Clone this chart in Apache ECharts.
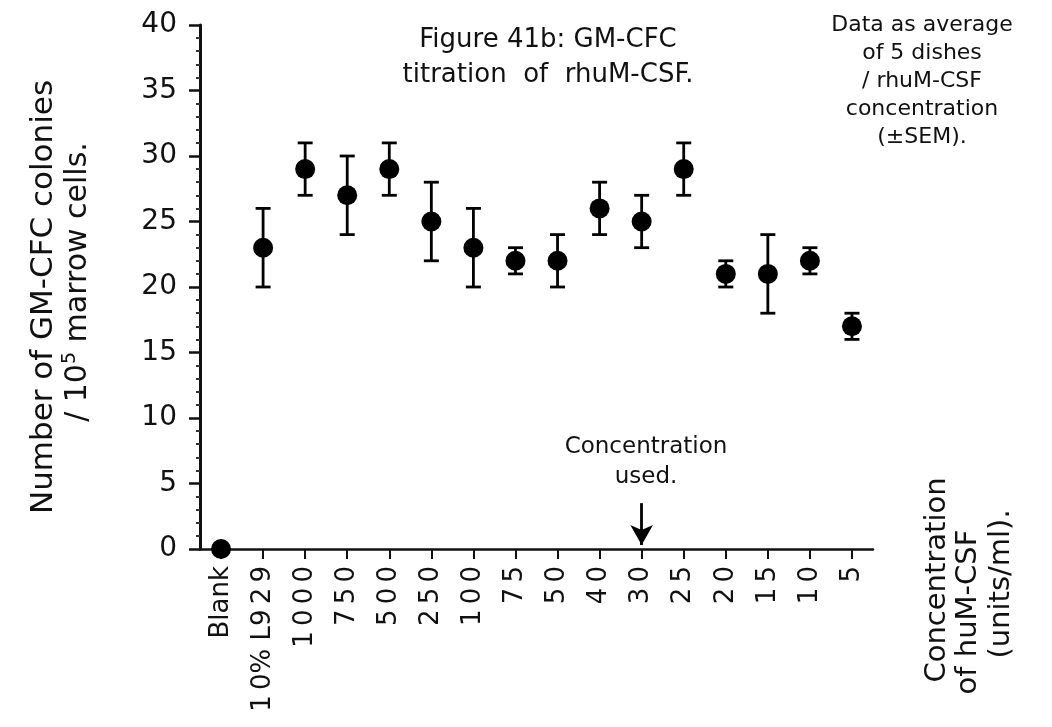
<!DOCTYPE html>
<html>
<head>
<meta charset="utf-8">
<script src="https://cdn.jsdelivr.net/npm/echarts@6/dist/echarts.min.js"></script>
<style>
  html, body { margin: 0; padding: 0; background: #ffffff; }
  #chart { width: 1052px; height: 727px; }
</style>
</head>
<body>
<div id="chart"></div>
<script>
// GM-CFC colonies per 10^5 marrow cells for each rhuM-CSF concentration
const categories = ['Blank', '10% L929', '1000', '750', '500', '250', '100', '75', '50', '40', '30', '25', '20', '15', '10', '5'];
const means = [0, 23, 29, 27, 29, 25, 23, 22, 22, 26, 25, 29, 21, 21, 22, 17];
// mean ± SEM limits (Blank has no error bar)
const lows  = [null, 20, 27, 24, 27, 22, 20, 21, 20, 24, 23, 27, 20, 18, 21, 16];
const highs = [null, 26, 31, 30, 31, 28, 26, 23, 24, 28, 27, 31, 22, 24, 23, 18];
// concentration actually used downstream, marked by the arrow
const usedCategory = '30';
const arrowFrom = 3.5;
const arrowTo = 0.3;

const FONT = 'DejaVu Sans';
const INK = '#111111';
const THIN = '\u2009';

const chart = echarts.init(document.getElementById('chart'));

const pointData = categories.map((c, i) => [i, means[i]]);
const barData = categories
  .map((c, i) => [i, lows[i], highs[i]])
  .filter(d => d[1] !== null);

// typewriter-style spacing between neighbouring digits of a tick label
function spaceDigits(label) {
  return label.replace(/(\d)(?=\d)/g, '$1' + THIN);
}

function renderErrorBar(params, api) {
  const x = api.coord([api.value(0), api.value(1)])[0];
  const yLow = api.coord([api.value(0), api.value(1)])[1];
  const yHigh = api.coord([api.value(0), api.value(2)])[1];
  const half = 7.5;
  const style = { stroke: '#000000', lineWidth: 2.8 };
  return {
    type: 'group',
    children: [
      { type: 'line', shape: { x1: x, y1: yLow, x2: x, y2: yHigh }, style },
      { type: 'line', shape: { x1: x - half, y1: yLow, x2: x + half, y2: yLow }, style },
      { type: 'line', shape: { x1: x - half, y1: yHigh, x2: x + half, y2: yHigh }, style }
    ]
  };
}

const option = {
  backgroundColor: '#ffffff',
  animation: false,
  textStyle: { fontFamily: FONT, color: INK },
  grid: { left: 200, right: 179, top: 25, bottom: 178, containLabel: false },
  xAxis: {
    type: 'category',
    data: categories,
    boundaryGap: true,
    axisLine: { show: true, lineStyle: { color: INK, width: 2.5 } },
    axisTick: { show: true, alignWithLabel: true, length: 10, lineStyle: { color: INK, width: 2 } },
    axisLabel: {
      rotate: 90,
      margin: 17,
      fontFamily: FONT,
      fontSize: 26,
      color: INK,
      formatter: spaceDigits
    },
    splitLine: { show: false }
  },
  yAxis: {
    type: 'value',
    min: 0,
    max: 40,
    interval: 5,
    axisLine: { show: true, lineStyle: { color: INK, width: 3 } },
    axisTick: { show: true, length: 11, lineStyle: { color: INK, width: 2.5 } },
    minorTick: { show: true, splitNumber: 5, length: 4, lineStyle: { color: '#333333', width: 2 } },
    axisLabel: { margin: 23, fontFamily: FONT, fontSize: 28, color: INK },
    splitLine: { show: false }
  },
  series: [
    {
      type: 'custom',
      name: 'SEM',
      renderItem: renderErrorBar,
      data: barData,
      encode: { x: 0, y: [1, 2] },
      z: 2
    },
    {
      type: 'scatter',
      name: 'Mean',
      data: pointData,
      symbol: 'circle',
      symbolSize: 20,
      clip: false,
      itemStyle: { color: '#000000', opacity: 1 },
      z: 3,
      markLine: {
        silent: true,
        symbol: ['none', 'arrow'],
        symbolSize: [17, 20],
        label: { show: false },
        lineStyle: { color: '#000000', width: 2.8, type: 'solid' },
        data: [[
          { coord: [usedCategory, arrowFrom] },
          { coord: [usedCategory, arrowTo] }
        ]]
      }
    }
  ],
  graphic: [
    // figure title
    {
      type: 'text', x: 548, y: 58,
      style: {
        text: 'Figure 41b: GM-CFC\ntitration  of  rhuM-CSF.',
        fontFamily: FONT, fontSize: 26, fill: INK,
        align: 'center', verticalAlign: 'middle', lineHeight: 35
      }
    },
    // method note, top right
    {
      type: 'text', x: 922, y: 81,
      style: {
        text: 'Data as average\nof 5 dishes\n/ rhuM-CSF\nconcentration\n(±SEM).',
        fontFamily: FONT, fontSize: 22, fill: INK,
        align: 'center', verticalAlign: 'middle', lineHeight: 28
      }
    },
    // label above the arrow
    {
      type: 'text', x: 646, y: 462,
      style: {
        text: 'Concentration\nused.',
        fontFamily: FONT, fontSize: 23, fill: INK,
        align: 'center', verticalAlign: 'middle', lineHeight: 30
      }
    },
    // y-axis title, two rotated lines
    {
      type: 'text', x: 44, y: 297, rotation: Math.PI / 2,
      style: {
        text: 'Number of GM-CFC colonies',
        fontFamily: FONT, fontSize: 31, fill: INK,
        align: 'center', verticalAlign: 'middle'
      }
    },
    {
      type: 'text', x: 78, y: 282, rotation: Math.PI / 2,
      style: {
        text: '/ 10{sup|5} marrow cells.',
        fontFamily: FONT, fontSize: 30, fill: INK,
        align: 'center', verticalAlign: 'middle',
        rich: {
          sup: { fontFamily: FONT, fontSize: 19, fill: INK, verticalAlign: 'top', lineHeight: 34 }
        }
      }
    },
    // x-axis title, three rotated lines at the right
    {
      type: 'text', x: 937, y: 580, rotation: Math.PI / 2,
      style: {
        text: 'Concentration',
        fontFamily: FONT, fontSize: 29, fill: INK,
        align: 'center', verticalAlign: 'middle'
      }
    },
    {
      type: 'text', x: 968, y: 612, rotation: Math.PI / 2,
      style: {
        text: 'of huM-CSF',
        fontFamily: FONT, fontSize: 29, fill: INK,
        align: 'center', verticalAlign: 'middle'
      }
    },
    {
      type: 'text', x: 1001, y: 584, rotation: Math.PI / 2,
      style: {
        text: '(units/ml).',
        fontFamily: FONT, fontSize: 29, fill: INK,
        align: 'center', verticalAlign: 'middle'
      }
    }
  ]
};

chart.setOption(option);
</script>
</body>
</html>
